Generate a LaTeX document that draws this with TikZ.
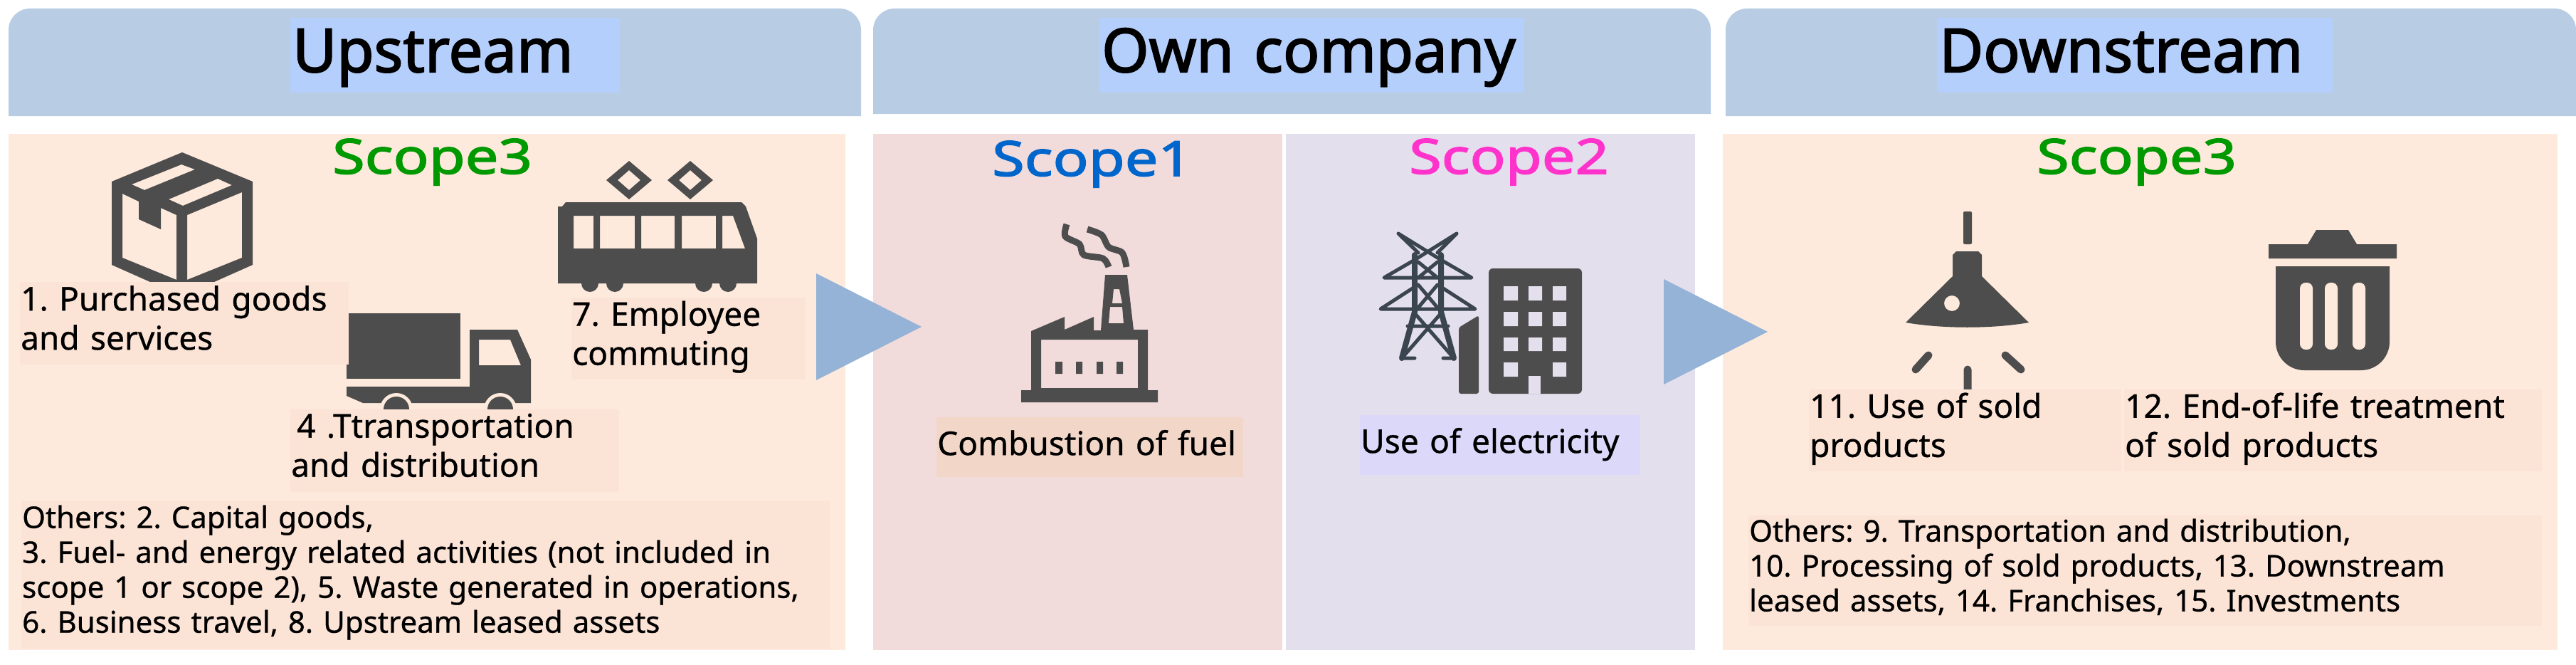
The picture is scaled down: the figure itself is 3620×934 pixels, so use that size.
\documentclass[tikz,border=0pt]{standalone}
\usepackage{fontspec}
\setmainfont[FakeBold=0.7]{Noto Sans}
\newfontfamily\headfont[FakeBold=2.2]{Noto Sans}
\newfontfamily\scopefont[FakeBold=2.2,FakeStretch=1.22]{Noto Sans}
\frenchspacing
\definecolor{headc}{HTML}{B8CCE4}
\definecolor{lightc}{HTML}{B4CFFB}
\definecolor{warmc}{HTML}{FDEADC}
\definecolor{labelc}{HTML}{FBE3D6}
\definecolor{onec}{HTML}{F2DCDB}
\definecolor{twoc}{HTML}{E4DFEC}
\definecolor{fuelc}{HTML}{F2D6C8}
\definecolor{powerc}{HTML}{DCD8FA}
\definecolor{iconc}{HTML}{4D4D4D}
\definecolor{towerc}{HTML}{3A4550}
\definecolor{arrowc}{HTML}{95B3D7}
\definecolor{threec}{HTML}{009900}
\definecolor{bluec}{HTML}{0066CC}
\definecolor{pinkc}{HTML}{FF33CC}
\tikzset{
  title/.style={anchor=north west, fill=lightc, inner xsep=3pt, inner ysep=0pt, align=left, text height=76pt, text depth=29pt, font=\fontsize{85}{95}\headfont},
  scopelab/.style={anchor=base west, inner sep=0pt, font=\fontsize{68}{75}\scopefont},
  lab/.style={anchor=north west, fill=labelc, inner xsep=1pt, inner ysep=0pt, align=left, font=\fontsize{46}{55}\selectfont, execute at end node={\rule[-16pt]{0pt}{16pt}}},
  other/.style={lab, font=\fontsize{42}{49}\selectfont},
  one/.style={anchor=north west, inner xsep=1pt, inner ysep=0pt, align=left, text height=53pt, text depth=31pt, font=\fontsize{46}{55}\selectfont},
  panel/.style={anchor=north west, inner sep=0pt, minimum height=725pt},
  icon/.style={fill=iconc, even odd rule},
  wire/.style={draw=towerc, line width=5pt, line cap=round, line join=round}
}
\begin{document}
\begin{tikzpicture}[x=1pt,y=-1pt]
\useasboundingbox (0,0) rectangle (3620,934);

% headers
\fill[headc] (12,163) [rounded corners=30pt] -- (12,12) -- (1210,12) [sharp corners] -- (1210,163) -- cycle;
\fill[headc] (1227,160) [rounded corners=30pt] -- (1227,12) -- (2404,12) [sharp corners] -- (2404,160) -- cycle;
\fill[headc] (2425,163) [rounded corners=30pt] -- (2425,12) -- (3620,12) [sharp corners] -- (3620,163) -- cycle;
\node[title, text width=457pt] (upstream) at (408,25) {Upstream};
\node[title, text width=590pt] (owncompany) at (1545,25) {Own company};
\node[title, text width=550pt] (downstream) at (2722,25) {Downstream};

% panels
\node[panel, fill=warmc, minimum width=1176pt] (uppanel) at (12,188) {};
\node[panel, fill=onec, minimum width=575pt] (onepanel) at (1227,188) {};
\node[panel, fill=twoc, minimum width=575pt] (twopanel) at (1807,188) {};
\node[panel, fill=warmc, minimum width=1173pt] (downpanel) at (2421,188) {};

\node[scopelab, text=threec] (scopethreeup) at (467,244) {Scope3};
\node[scopelab, text=bluec] (scopeone) at (1394,247) {Scope1};
\node[scopelab, text=pinkc] (scopetwo) at (1980,244) {Scope2};
\node[scopelab, text=threec] (scopethreedown) at (2862,244) {Scope3};

% box
\fill[icon] (256,214) -- (355,255) -- (355,372) -- (256,416) -- (157,372) -- (157,255) -- cycle
  (172,272) -- (195,283) -- (195,308) -- (226,322) -- (226,292) -- (248,302) -- (248,393) -- (172,362) -- cycle
  (263,302) -- (340,270) -- (340,362) -- (263,393) -- cycle
  (185,259) -- (255,231) -- (274,238) -- (203,267) -- cycle
  (237,280) -- (306,251) -- (326,260) -- (257,289) -- cycle;

% train
\fill[icon] (784,290) -- (790,290) -- (795,284) -- (1042,284) -- (1048,290) -- (1064,335) -- (1064,398) -- (784,398) -- cycle
  (806,303) rectangle (834,349) (843,303) rectangle (892,349) (901,303) rectangle (948,349) (958,303) rectangle (1006,349)
  (1015,303) -- (1030,303) -- (1047,349) -- (1015,349) -- cycle;
\fill[iconc] (829,398) circle (12pt) (864,398) circle (12pt) (989,398) circle (12pt) (1023,398) circle (12pt);
\fill[icon] (884,226) -- (916,253) -- (884,280) -- (852,253) -- cycle (884,239) -- (900,253) -- (884,267) -- (868,253) -- cycle;
\fill[icon] (970,226) -- (1002,253) -- (970,280) -- (938,253) -- cycle (970,239) -- (986,253) -- (970,267) -- (954,253) -- cycle;

% truck
\fill[iconc] (487,440) rectangle (647,532);
\fill[icon] (487,543) -- (660,543) -- (660,463) -- (727,463) -- (746,505) -- (746,566) -- (510,566) -- (487,556) -- cycle
  (673,477) -- (717,477) -- (732,513) -- (673,513) -- cycle;
\fill[warmc] (557,575) circle (23pt) (703,575) circle (23pt);
\fill[iconc] (557,575) circle (18pt) (703,575) circle (18pt);

\node[lab, text width=460pt, minimum height=116pt] (purchased) at (28,396) {1. Purchased goods\\and services};
\node[lab, text width=327pt, minimum height=115pt] (commuting) at (803,418) {7. Employee\\commuting};
\node[lab, text width=460pt, minimum height=116pt] (transport) at (408,575) {\hspace*{8pt}4 .Ttransportation\\and distribution};
\node[other, text width=1134pt, minimum height=208pt] (othersup) at (30,703) {Others: 2. Capital goods,\\3. Fuel- and energy related activities (not included in\\scope 1 or scope 2), 5. Waste generated in operations,\\6. Business travel, 8. Upstream leased assets};

% factory
\fill[icon] (1449,465) -- (1496,445) -- (1496,463) -- (1537,445) -- (1537,464) -- (1547,464) -- (1553,386) -- (1584,386) -- (1593,463) -- (1613,463) -- (1613,548) -- (1627,548) -- (1627,565) -- (1435,565) -- (1435,548) -- (1449,548) -- cycle
  (1463,477) rectangle (1599,545)
  (1563,426) -- (1565,406) -- (1573,406) -- (1577,426) -- cycle
  (1560,431) -- (1577,431) -- (1579,454) -- (1558,454) -- cycle;
\fill[iconc] (1483,508) rectangle (1493,525) (1512,508) rectangle (1521,525) (1541,508) rectangle (1550,525) (1569,508) rectangle (1578,525);
\draw[iconc, line width=9pt] plot[smooth] coordinates {(1499,315) (1497,332) (1517,343) (1523,358) (1550,363) (1558,375)};
\draw[iconc, line width=9pt] plot[smooth] coordinates {(1528,322) (1548,330) (1558,347) (1577,355) (1583,375)};
\node[one, fill=fuelc, text width=429pt] (combustion) at (1316,586) {Combustion of fuel};

% pylon and building
\draw[wire, line width=8pt] (1988,358) -- (1988,438) -- (1970,503) (2025,358) -- (2025,438) -- (2043,503);
\draw[wire] (1965,328) -- (2025,365) (2047,328) -- (1988,365) (1965,328) -- (1993,355) (2047,328) -- (2020,355)
  (1988,365) -- (1945,390) -- (2068,390) -- (2025,365) (1988,403) -- (1940,434) -- (2073,434) -- (2025,403)
  (1993,368) -- (2020,390) (2020,368) -- (1993,390) (1993,400) -- (2020,432) (2020,400) -- (1993,432)
  (1988,440) -- (2043,503) (2025,440) -- (1970,503) (1978,458) -- (2035,458) (1970,503) -- (1988,503) (2043,503) -- (2028,503);
\fill[iconc, rounded corners=3pt] (2050,460) -- (2078,443) -- (2078,553) -- (2050,553) -- cycle;
\fill[iconc, rounded corners=6pt] (2092,377) rectangle (2223,553);
\fill[twoc] (2148,528) rectangle (2165,553);
\fill[twoc] (2113,402) rectangle (2133,422) (2148,402) rectangle (2167,422) (2182,402) rectangle (2201,422)
  (2113,438) rectangle (2133,458) (2148,438) rectangle (2167,458) (2182,438) rectangle (2201,458)
  (2113,474) rectangle (2133,493) (2148,474) rectangle (2167,493) (2182,474) rectangle (2201,493)
  (2113,509) rectangle (2133,529) (2182,509) rectangle (2201,529);
\node[one, fill=powerc, text width=392pt] (electricity) at (1911,583) {Use of electricity};

% lamp
\fill[iconc, rounded corners=2pt] (2759,297) rectangle (2771,343);
\fill[icon] (2744,388) -- (2744,358) -- (2749,353) -- (2780,353) -- (2785,358) -- (2785,388) -- (2851,453) .. controls (2800,462) and (2730,462) .. (2678,453) -- cycle
  (2743,426) circle (11pt);
\draw[iconc, line width=11pt, line cap=round] (2710,499) -- (2692,519) (2818,499) -- (2840,519) (2765,519) -- (2765,547);

% trash can
\fill[iconc] (3188,343) -- (3243,343) -- (3255,323) -- (3300,323) -- (3312,343) -- (3368,343) -- (3368,363) -- (3188,363) -- cycle;
\fill[iconc, rounded corners=40pt] (3198,374) [sharp corners] -- (3358,374) [rounded corners=40pt] -- (3358,520) -- (3198,520) [sharp corners] -- cycle;
\fill[warmc, rounded corners=8pt] (3232,397) rectangle (3250,491) (3267,397) rectangle (3285,491) (3306,397) rectangle (3324,491);

\node[lab, text width=437pt, minimum height=115pt] (usesold) at (2542,547) {11. Use of sold\\products};
\node[lab, text width=585pt, minimum height=115pt] (endoflife) at (2985,547) {12. End-of-life treatment\\of sold products};
\node[other, text width=1113pt, minimum height=155pt] (othersdown) at (2457,724) {Others: 9. Transportation and distribution,\\10. Processing of sold products, 13. Downstream\\leased assets, 14. Franchises, 15. Investments};

% stage arrows
\fill[arrowc] (1147,384) -- (1295,459) -- (1147,534) -- cycle;
\fill[arrowc] (2338,392) -- (2484,466) -- (2338,540) -- cycle;
\end{tikzpicture}
\end{document}
